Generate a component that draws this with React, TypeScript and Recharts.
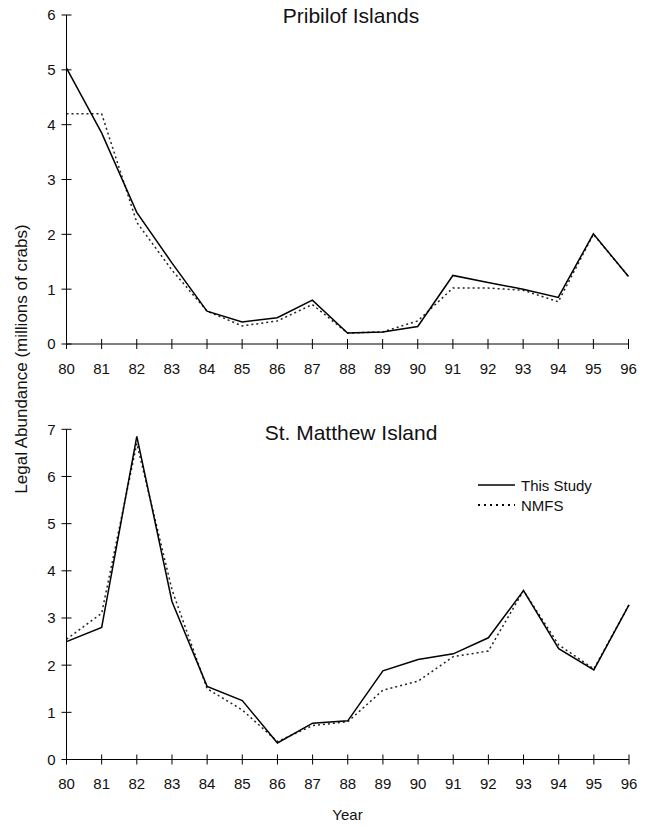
import { LineChart, Line, XAxis, YAxis } from 'recharts'

const years = [80, 81, 82, 83, 84, 85, 86, 87, 88, 89, 90, 91, 92, 93, 94, 95, 96]
const pribilofStudy = [5.03, 3.85, 2.4, 1.48, 0.6, 0.4, 0.48, 0.8, 0.2, 0.22, 0.32, 1.25, 1.12, 1.0, 0.85, 2.01, 1.23]
const pribilofNmfs = [4.2, 4.2, 2.22, 1.35, 0.6, 0.33, 0.42, 0.72, 0.2, 0.22, 0.42, 1.02, 1.02, 0.98, 0.77, 2.0, 1.23]
const matthewStudy = [2.5, 2.8, 6.85, 3.35, 1.55, 1.25, 0.35, 0.77, 0.82, 1.88, 2.12, 2.24, 2.58, 3.58, 2.35, 1.9, 3.28]
const matthewNmfs = [2.55, 3.1, 6.7, 3.6, 1.5, 1.05, 0.38, 0.72, 0.8, 1.47, 1.66, 2.18, 2.3, 3.58, 2.43, 1.92, 3.28]
const pribilofTicks = [0, 1, 2, 3, 4, 5, 6]
const matthewTicks = [0, 1, 2, 3, 4, 5, 6, 7]

const FONT = '"Liberation Sans", Arial, sans-serif'
const INK = '#111'
const TICK_SIZE = 5
const X_MARGIN = 14
const Y_MARGIN = 6

const XTick = ({ x, y, payload }: any) => {
  const axisY = y - TICK_SIZE - X_MARGIN
  return (
    <g>
      <line x1={x} x2={x} y1={axisY - 5} y2={axisY + 5} stroke="#000" />
      <text x={x} y={y} dy="0.71em" textAnchor="middle" fontSize={15} fontFamily={FONT} fill={INK}>
        {payload.value}
      </text>
    </g>
  )
}

const YTick = ({ x, y, payload }: any) => {
  const axisX = x + TICK_SIZE + Y_MARGIN
  return (
    <g>
      <line x1={axisX - 5} x2={axisX + 5} y1={y} y2={y} stroke="#000" />
      <text x={x} y={y} dy="0.36em" textAnchor="end" fontSize={15} fontFamily={FONT} fill={INK}>
        {payload.value}
      </text>
    </g>
  )
}

// legend drawn outside the chart so it takes no room from the plot
const SeriesKey = () => (
  <div style={{ position: 'absolute', left: 478, top: 475, fontFamily: FONT, fontSize: 15, color: INK }}>
    <div style={{ display: 'flex', alignItems: 'center', height: 20 }}>
      <svg width={37} height={20}>
        <line x1={0} x2={37} y1={10} y2={10} stroke="#000" strokeWidth={1.5} />
      </svg>
      <span style={{ marginLeft: 6 }}>This Study</span>
    </div>
    <div style={{ display: 'flex', alignItems: 'center', height: 20 }}>
      <svg width={37} height={20}>
        <line x1={0} x2={37} y1={10} y2={10} stroke="#000" strokeWidth={2} strokeDasharray="2 4" />
      </svg>
      <span style={{ marginLeft: 6 }}>NMFS</span>
    </div>
  </div>
)

function Panel({ study, nmfs, ticks, top, height, margin }: any) {
  const data = years.map((year, i) => ({ year, study: study[i], nmfs: nmfs[i] }))
  return (
    <div style={{ position: 'absolute', left: 0, top }}>
      <LineChart width={652} height={height} data={data} margin={margin}>
        <XAxis
          dataKey="year"
          type="number"
          domain={[80, 96]}
          ticks={years}
          height={40}
          tick={<XTick />}
          tickLine={false}
          tickSize={TICK_SIZE}
          tickMargin={X_MARGIN}
          axisLine={{ stroke: '#000' }}
        />
        <YAxis
          type="number"
          domain={[0, ticks[ticks.length - 1]]}
          ticks={ticks}
          width={66.5}
          tick={<YTick />}
          tickLine={false}
          tickSize={TICK_SIZE}
          tickMargin={Y_MARGIN}
          axisLine={{ stroke: '#000' }}
        />
        <Line
          dataKey="nmfs"
          name="NMFS"
          stroke="#222"
          strokeWidth={1.5}
          strokeDasharray="2 3"
          dot={false}
          isAnimationActive={false}
        />
        <Line
          dataKey="study"
          name="This Study"
          stroke="#000"
          strokeWidth={1.5}
          dot={false}
          isAnimationActive={false}
        />
      </LineChart>
    </div>
  )
}

export default function App() {
  const title = { position: 'absolute' as const, left: 351, transform: 'translateX(-50%)', fontFamily: FONT, fontSize: 21, color: INK, whiteSpace: 'nowrap' as const }
  return (
    <div style={{ position: 'absolute', left: 0, top: 0, width: 652, height: 827, background: '#fff' }}>
      <Panel
        study={pribilofStudy}
        nmfs={pribilofNmfs}
        ticks={pribilofTicks}
        top={0}
        height={400}
        margin={{ top: 15, right: 23.5, bottom: 16, left: 0 }}
      />
      <Panel
        study={matthewStudy}
        nmfs={matthewNmfs}
        ticks={matthewTicks}
        top={400}
        height={427}
        margin={{ top: 29.3, right: 23, bottom: 27.5, left: 0 }}
      />
      <SeriesKey />
      <div style={{ ...title, top: 4 }}>Pribilof Islands</div>
      <div style={{ ...title, top: 421 }}>St. Matthew Island</div>
      <div
        style={{
          position: 'absolute',
          left: 22,
          top: 359,
          transform: 'translate(-50%, -50%) rotate(-90deg)',
          fontFamily: FONT,
          fontSize: 17,
          color: INK,
          whiteSpace: 'nowrap',
        }}
      >
        Legal Abundance (millions of crabs)
      </div>
      <div style={{ position: 'absolute', left: 347.5, top: 806, transform: 'translateX(-50%)', fontFamily: FONT, fontSize: 15, color: INK }}>
        Year
      </div>
    </div>
  )
}
